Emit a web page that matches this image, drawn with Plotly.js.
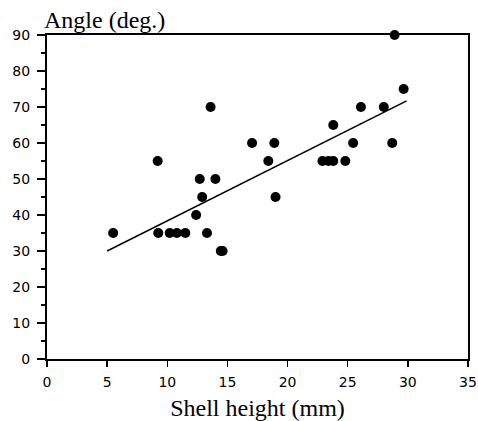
<!DOCTYPE html>
<html><head><meta charset="utf-8">
<script src="https://cdn.plot.ly/plotly-3.0.1.min.js"></script>
<style>html,body{margin:0;padding:0;background:#fff}</style>
</head><body>
<div id="chart" style="width:478px;height:421px"></div>
<script>
var shellHeight = [5.5, 9.2, 9.25, 10.2, 10.8, 11.5, 12.4, 12.7, 12.9, 13.3, 13.6, 14.0, 14.45, 14.6, 17.05, 18.4, 18.9, 19.0, 22.9, 23.4, 23.8, 23.8, 24.8, 25.45, 26.1, 28.0, 28.7, 28.9, 29.65];
var angle       = [35, 55, 35, 35, 35, 35, 40, 50, 45, 35, 70, 50, 30, 30, 60, 55, 60, 45, 55, 55, 55, 65, 55, 60, 70, 70, 60, 90, 75];
var fitX = [5, 29.9];
var fitY = [30, 71.7];
var xTicks = [0, 5, 10, 15, 20, 25, 30, 35];
var yTicks = [0, 10, 20, 30, 40, 50, 60, 70, 80, 90];

var serif = 'Liberation Serif, Times New Roman, serif';
var sans = 'DejaVu Sans, Arial, sans-serif';

Plotly.newPlot('chart', [
  {x: shellHeight, y: angle, type: 'scatter', mode: 'markers',
   marker: {color: '#000', size: 10}, cliponaxis: false, hoverinfo: 'skip'},
  {x: fitX, y: fitY, type: 'scatter', mode: 'lines',
   line: {color: '#000', width: 1.5}, hoverinfo: 'skip'}
], {
  width: 478, height: 421,
  margin: {l: 47, r: 10, t: 35, b: 62},
  paper_bgcolor: '#fff', plot_bgcolor: '#fff',
  showlegend: false,
  xaxis: {range: [0, 35], tickvals: xTicks, ticktext: xTicks.map(String),
    showgrid: false, zeroline: false, showline: true, mirror: true,
    linecolor: '#000', linewidth: 2, ticks: 'outside', ticklen: 6, tickwidth: 1.5, tickcolor: '#000',
    ticklabelstandoff: 3,
    tickfont: {family: sans, size: 14, color: '#000'},
    title: {text: 'Shell height (mm)', font: {family: serif, size: 24, color: '#000'}, standoff: 10}},
  yaxis: {range: [0, 90], tickvals: yTicks, ticktext: yTicks.map(String),
    showgrid: false, zeroline: false, showline: true, mirror: true,
    linecolor: '#000', linewidth: 2, ticks: 'outside', ticklen: 8, tickwidth: 1.5, tickcolor: '#000',
    ticklabelstandoff: 4,
    minor: {dtick: 5, ticks: 'outside', ticklen: 4, tickwidth: 1.5, tickcolor: '#000', showgrid: false},
    tickfont: {family: sans, size: 14, color: '#000'}},
  annotations: [{text: 'Angle (deg.)', xref: 'paper', yref: 'paper', x: 0, y: 1,
    xanchor: 'left', yanchor: 'bottom', xshift: -5, yshift: 0, showarrow: false,
    font: {family: serif, size: 24, color: '#000'}}]
}, {staticPlot: true});
</script>
</body></html>
